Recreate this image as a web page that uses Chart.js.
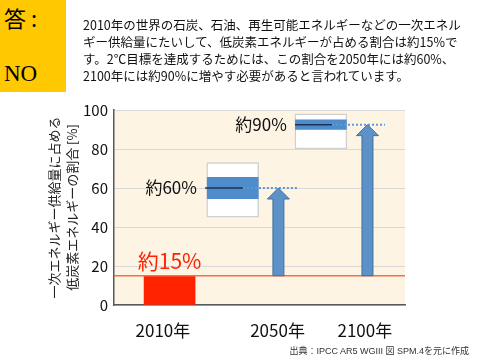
<!DOCTYPE html>
<html lang="ja">
<head>
<meta charset="utf-8">
<script src="https://cdn.jsdelivr.net/npm/chart.js@4/dist/chart.umd.min.js"></script>
<style>
  html, body { margin: 0; padding: 0; background: #fff; }
  #wrap { position: relative; width: 480px; height: 360px; overflow: hidden; font-family: 'Noto Sans CJK JP', 'Noto Sans', sans-serif; }
  #c { position: absolute; left: 0; top: 0; }
  #ans { position: absolute; left: 0; top: 0; width: 66px; height: 92px; background: #FFC800; }
  #ans .q { position: absolute; left: 4px; top: 3px; font-size: 22px; line-height: 28px; color: #000; font-family: 'Noto Sans CJK JP', sans-serif; }
  #ans .no { position: absolute; left: 4px; top: 60px; font-size: 23px; line-height: 28px; color: #000; font-family: 'Liberation Serif', 'DejaVu Serif', serif; }
  #para { position: absolute; left: 83px; top: 16px; font-size: 12.5px; line-height: 17px; color: #111; white-space: nowrap; }
  #src { position: absolute; right: 11px; top: 345px; font-size: 9px; line-height: 13px; color: #333; white-space: nowrap; font-family: 'Liberation Sans', 'Noto Sans CJK JP', sans-serif; }
</style>
</head>
<body>
<div id="wrap">
  <canvas id="c" width="480" height="360"></canvas>
  <div id="ans"><div class="q">答&nbsp;:</div><div class="no">NO</div></div>
  <div id="para">2010年の世界の石炭、石油、再生可能エネルギーなどの一次エネル<br>ギー供給量にたいして、低炭素エネルギーが占める割合は約15%で<br>す。2℃目標を達成するためには、この割合を2050年には約60%、<br>2100年には約90%に増やす必要があると言われています。</div>
  <div id="src">出典：IPCC AR5 WGIII 図 SPM.4を元に作成</div>
</div>
<script>
// ---- data ----
const categories = ['2010年', '2050年', '2100年'];
const share2010 = 15;                       // % low-carbon share in 2010
const targetMedian = [60, 92.5];            // 2050, 2100 (median of range)
const targetOuter = [[45, 73], [80, 98]];   // 2050, 2100 full range
const targetInner = [[54.5, 65.5], [90, 95]]; // 2050, 2100 inner range
const valueLabels = ['約15%', '約60%', '約90%'];
const yTicks = [0, 20, 40, 60, 80, 100];
const yTitle = ['一次エネルギー供給量に占める', '低炭素エネルギーの割合 [%]'];

// ---- layout (positions on a 0..10 horizontal layout axis) ----
const catPos = [1.91, 5.65, 8.71];       // bar / arrows
const labelPos = [1.68, 5.62, 8.62];     // category tick labels
const boxPos = [4.08, 7.11];             // range boxes
const darkSpan = [[3.13, 4.43], [6.22, 7.49]];
const dotSpan = [[4.43, 6.29], [7.49, 9.31]];
const labelRight = [2.85, 5.94];

const C_BLUE = '#4E8CCC';
const C_ARROW = '#5D92C9';

const lineDs = (pts, color, dash, width) => ({
  type: 'line', data: pts, borderColor: color, borderWidth: width, borderDash: dash,
  pointRadius: 0, fill: false, tension: 0, order: 0
});

const datasets = [
  lineDs([{x: 0, y: share2010}, {x: 10, y: share2010}], '#F07048', [], 1.5),
  { type: 'bar', data: [{x: catPos[0], y: share2010}], backgroundColor: '#FF2200', barThickness: 51, grouped: false, order: 6 },
  { type: 'bar', data: boxPos.map((p, i) => ({x: p, y: targetOuter[i]})), backgroundColor: '#FFFFFF',
    borderColor: '#D0D0D0', borderWidth: 1.5, borderSkipped: false, barThickness: 52, grouped: false, order: 5 },
  { type: 'bar', data: boxPos.map((p, i) => ({x: p, y: targetInner[i]})), backgroundColor: C_BLUE,
    barThickness: 51, grouped: false, order: 4 }
];
targetMedian.forEach((m, i) => {
  datasets.push(lineDs(darkSpan[i].map(x => ({x, y: m})), '#1F3050', [], 1.5));
  datasets.push(lineDs(dotSpan[i].map(x => ({x, y: m})), '#5B9BD5', [2, 2], 2));
});

const bgPlugin = {
  id: 'bg',
  beforeDraw(chart) {
    const {ctx, chartArea: a} = chart;
    ctx.save();
    ctx.fillStyle = '#FEF4E3';
    ctx.fillRect(a.left, a.top, a.right - a.left, a.bottom - a.top);
    ctx.restore();
  }
};

const arrowPlugin = {
  id: 'arrows',
  afterDatasetsDraw(chart) {
    const {ctx, scales: {x, y}} = chart;
    ctx.save();
    targetMedian.forEach((m, i) => {
      const cx = x.getPixelForValue(catPos[i + 1]);
      const yb = y.getPixelForValue(share2010);
      const yt = y.getPixelForValue(m);
      const sw = 5.5, hw = 11, hh = 11;
      ctx.beginPath();
      ctx.moveTo(cx - sw, yb);
      ctx.lineTo(cx - sw, yt + hh);
      ctx.lineTo(cx - hw, yt + hh);
      ctx.lineTo(cx, yt);
      ctx.lineTo(cx + hw, yt + hh);
      ctx.lineTo(cx + sw, yt + hh);
      ctx.lineTo(cx + sw, yb);
      ctx.closePath();
      ctx.fillStyle = C_ARROW;
      ctx.fill();
      ctx.strokeStyle = '#41719C';
      ctx.lineWidth = 1;
      ctx.stroke();
    });
    // value labels
    ctx.textBaseline = 'middle';
    ctx.fillStyle = '#FF2200';
    ctx.textAlign = 'center';
    ctx.font = "21px 'Noto Sans CJK JP', sans-serif";
    ctx.fillText(valueLabels[0], x.getPixelForValue(catPos[0]), y.getPixelForValue(share2010) - 15);
    ctx.fillStyle = '#111';
    ctx.textAlign = 'right';
    ctx.font = "17px 'Noto Sans CJK JP', sans-serif";
    targetMedian.forEach((m, i) => {
      ctx.fillText(valueLabels[i + 1], x.getPixelForValue(labelRight[i]), y.getPixelForValue(m));
    });
    ctx.restore();
  }
};

Chart.defaults.font.family = "'Noto Sans CJK JP', 'Noto Sans', sans-serif";

new Chart(document.getElementById('c'), {
  type: 'bar',
  data: { datasets },
  options: {
    responsive: false,
    animation: false,
    events: [],
    layout: { padding: { left: 0, top: 110, right: 75, bottom: 0 } },
    plugins: { legend: { display: false }, tooltip: { enabled: false } },
    scales: {
      x: {
        type: 'linear', min: 0, max: 10, offset: false,
        grid: { display: false, drawTicks: false, offset: false },
        border: { display: true, color: '#595959', width: 1.5 },
        afterBuildTicks(scale) { scale.ticks = labelPos.map(v => ({ value: v })); },
        afterFit(scale) { scale.height = 55; },
        ticks: {
          autoSkip: false, maxRotation: 0, padding: 15,
          font: { size: 17 }, color: '#111',
          callback: (v, i) => categories[i]
        }
      },
      y: {
        min: 0, max: 100,
        afterBuildTicks(scale) { scale.ticks = yTicks.map(v => ({ value: v })); },
        afterFit(scale) { scale.width = 114; },
        grid: { color: '#D9D9D9', lineWidth: 1, drawTicks: false },
        border: { display: true, color: '#595959', width: 1.5 },
        ticks: { padding: 6, font: { size: 15 }, color: '#111' },
        title: {
          display: true, text: yTitle, color: '#222',
          font: { size: 13, lineHeight: 1.4 },
          padding: { top: 45, bottom: 0 }
        }
      }
    }
  },
  plugins: [bgPlugin, arrowPlugin]
});
</script>
</body>
</html>
